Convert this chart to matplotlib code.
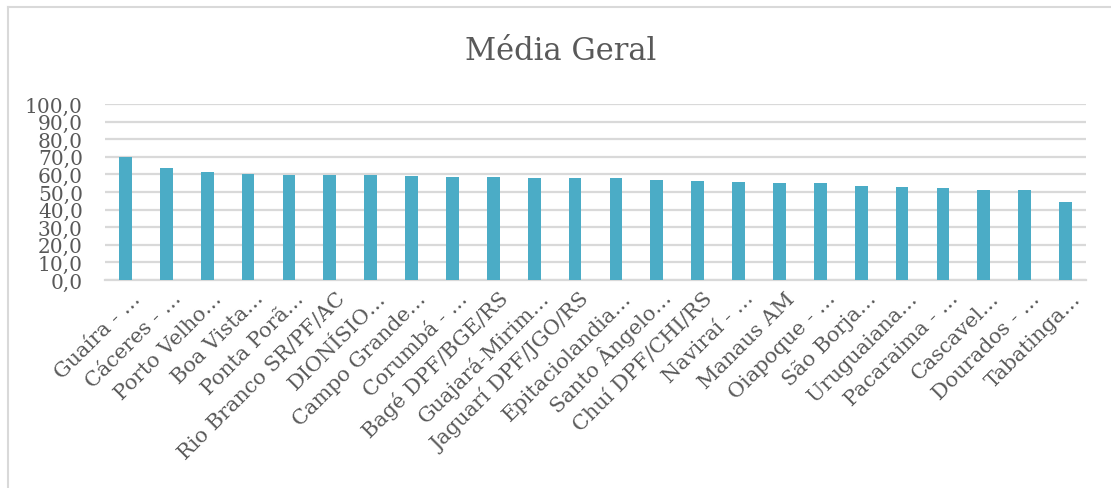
import matplotlib
matplotlib.use('Agg')
import matplotlib.pyplot as plt
import matplotlib.transforms as mtransforms
from matplotlib.lines import Line2D

# --- dados ---
categorias = [
    'Guaíra - …', 'Cáceres - …', 'Porto Velho…', 'Boa Vista…', 'Ponta Porã…',
    'Rio Branco SR/PF/AC', 'DIONÍSIO…', 'Campo Grande…', 'Corumbá - …',
    'Bagé DPF/BGE/RS', 'Guajará-Mirim…', 'Jaguarí DPF/JGO/RS', 'Epitaciolandia…',
    'Santo Ângelo…', 'Chuí DPF/CHI/RS', 'Naviraí - …', 'Manaus AM', 'Oiapoque - …',
    'São Borja…', 'Uruguaiana…', 'Pacaraima - …', 'Cascavel…', 'Dourados - …',
    'Tabatinga…',
]
media_geral = [
    69.7, 63.6, 61.4, 60.0, 59.8, 59.8, 59.7, 59.1, 58.4, 58.4, 58.2, 58.0,
    57.8, 57.0, 56.5, 55.7, 55.3, 55.1, 53.6, 52.7, 52.1, 51.1, 51.1, 44.5,
]
y_ticks = [0, 10, 20, 30, 40, 50, 60, 70, 80, 90, 100]

cor_barra = '#4BACC6'
cor_texto = '#595959'
cor_grade = '#D9D9D9'
fonte = ['DejaVu Serif']

fig = plt.figure(figsize=(11.11, 4.89), dpi=100)
fig.patch.set_facecolor('white')

# moldura (só topo e esquerda aparecem no recorte)
fig.add_artist(Line2D([8 / 1111, 8 / 1111], [0, 1 - 8 / 489], color=cor_grade, lw=1.5))
fig.add_artist(Line2D([8 / 1111, 1], [1 - 8 / 489, 1 - 8 / 489], color=cor_grade, lw=1.5))

ax = fig.add_axes([105 / 1111, 1 - 281 / 489, (1086 - 105) / 1111, (281 - 105) / 489])
x = list(range(len(categorias)))
ax.bar(x, media_geral, width=0.31, color=cor_barra, zorder=3)

ax.set_xlim(-0.5, len(categorias) - 0.5)
ax.set_ylim(0, 100)
ax.set_yticks(y_ticks)
ax.set_yticklabels([f'{v:.1f}'.replace('.', ',') for v in y_ticks],
                   fontsize=14.5, color=cor_texto, family=fonte)
ax.yaxis.grid(True, color=cor_grade, lw=1.6, zorder=0)
ax.set_axisbelow(True)

ax.set_xticks(x)
ax.set_xticklabels(categorias, rotation=45, ha='right', va='baseline',
                   rotation_mode='anchor', fontsize=15, color=cor_texto, family=fonte)
ax.tick_params(axis='both', length=0)
ax.tick_params(axis='x', pad=0)
ax.tick_params(axis='y', pad=16)

# fim do rótulo um pouco à direita do centro da barra, como no Excel
desloc = mtransforms.ScaledTranslation(0.16, -0.19, fig.dpi_scale_trans)
for lbl in ax.get_xticklabels():
    lbl.set_transform(lbl.get_transform() + desloc)

for s in ['top', 'right', 'left']:
    ax.spines[s].set_visible(False)
ax.spines['bottom'].set_color(cor_grade)
ax.spines['bottom'].set_linewidth(1.6)

fig.text(561 / 1111, 1 - 52 / 489, 'Média Geral', ha='center', va='center',
         fontsize=22, color=cor_texto, family=fonte)

fig.savefig('out.png', dpi=100, facecolor='white')
